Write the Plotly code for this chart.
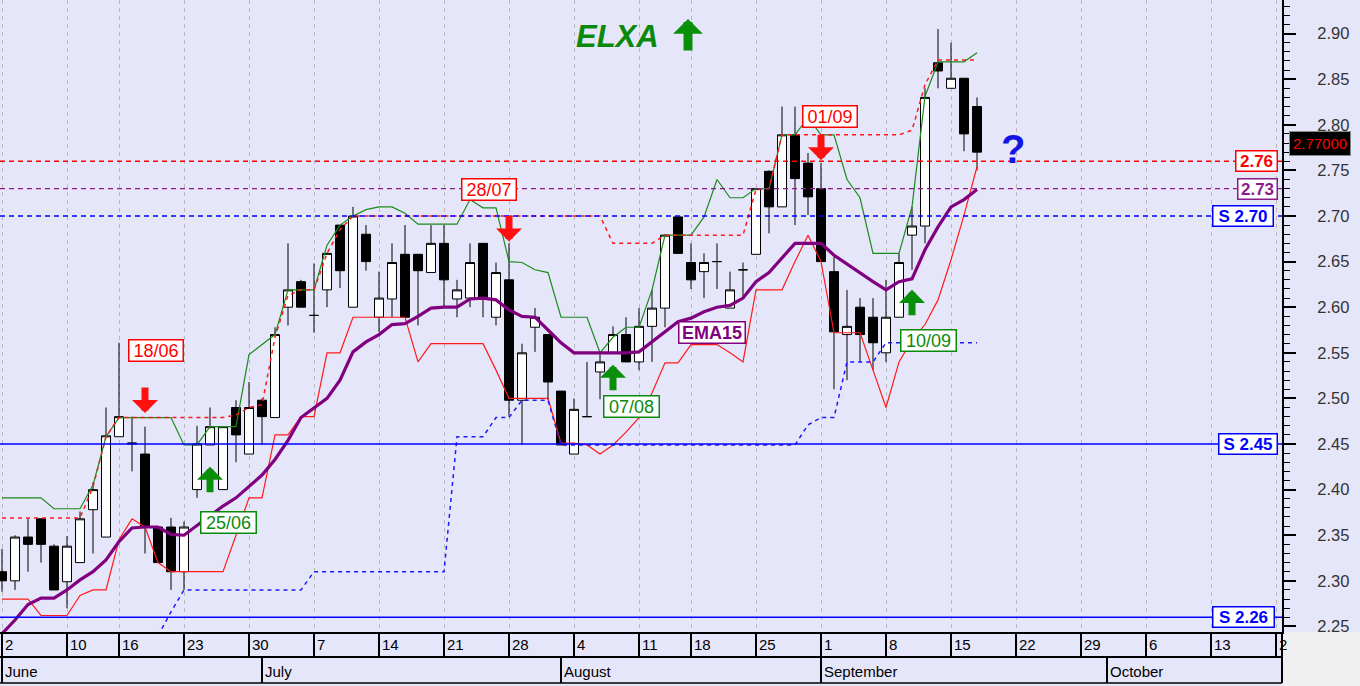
import plotly.graph_objects as go

# ---------------- data (trading-day index 0 = Mon 2 June 2014) ----------------
opens = [2.310, 2.300, 2.348, 2.368, 2.338, 2.299, 2.320, 2.378, 2.348, 2.458,
         2.450, 2.439, 2.359, 2.359, 2.310, 2.400, 2.449, 2.400, 2.490, 2.439,
         2.498, 2.479, 2.600, 2.628, 2.591, 2.619, 2.690, 2.600, 2.680, 2.589,
         2.609, 2.658, 2.658, 2.638, 2.670, 2.609, 2.610, 2.670, 2.589, 2.630,
         2.498, 2.578, 2.570, 2.508, 2.439, 2.480, 2.529, 2.550, 2.570, 2.540,
         2.579, 2.599, 2.699, 2.649, 2.639, 2.650, 2.599, 2.641, 2.658, 2.749,
         2.710, 2.789, 2.758, 2.730, 2.639, 2.570, 2.600, 2.589, 2.550, 2.589,
         2.679, 2.689, 2.868, 2.840, 2.851, 2.820]
highs = [2.335, 2.350, 2.368, 2.368, 2.340, 2.349, 2.376, 2.408, 2.490, 2.561,
         2.480, 2.469, 2.360, 2.369, 2.365, 2.470, 2.490, 2.469, 2.498, 2.518,
         2.500, 2.578, 2.670, 2.630, 2.648, 2.660, 2.690, 2.710, 2.690, 2.639,
         2.670, 2.690, 2.658, 2.690, 2.690, 2.630, 2.670, 2.670, 2.649, 2.670,
         2.560, 2.599, 2.570, 2.508, 2.500, 2.540, 2.550, 2.579, 2.589, 2.599,
         2.619, 2.680, 2.700, 2.670, 2.659, 2.670, 2.639, 2.649, 2.730, 2.750,
         2.820, 2.820, 2.769, 2.758, 2.655, 2.619, 2.610, 2.610, 2.630, 2.659,
         2.710, 2.840, 2.905, 2.890, 2.851, 2.830]
lows = [2.288, 2.290, 2.310, 2.320, 2.290, 2.270, 2.320, 2.330, 2.348, 2.458,
        2.420, 2.330, 2.320, 2.290, 2.290, 2.391, 2.449, 2.400, 2.430, 2.439,
        2.449, 2.479, 2.580, 2.600, 2.572, 2.600, 2.621, 2.600, 2.640, 2.573,
        2.589, 2.589, 2.580, 2.638, 2.600, 2.589, 2.600, 2.589, 2.580, 2.480,
        2.449, 2.551, 2.498, 2.449, 2.439, 2.480, 2.499, 2.550, 2.540, 2.531,
        2.540, 2.578, 2.659, 2.620, 2.610, 2.620, 2.599, 2.610, 2.658, 2.681,
        2.710, 2.690, 2.701, 2.650, 2.510, 2.520, 2.540, 2.531, 2.540, 2.589,
        2.641, 2.670, 2.840, 2.840, 2.771, 2.750]
closes = [2.300, 2.348, 2.340, 2.340, 2.290, 2.338, 2.368, 2.400, 2.459, 2.480,
          2.451, 2.360, 2.320, 2.310, 2.359, 2.450, 2.469, 2.469, 2.460, 2.490,
          2.480, 2.570, 2.619, 2.600, 2.591, 2.659, 2.640, 2.700, 2.650, 2.610,
          2.649, 2.589, 2.640, 2.670, 2.630, 2.619, 2.649, 2.610, 2.638, 2.498,
          2.550, 2.589, 2.518, 2.449, 2.488, 2.480, 2.540, 2.570, 2.540, 2.579,
          2.599, 2.679, 2.659, 2.630, 2.649, 2.650, 2.619, 2.641, 2.730, 2.710,
          2.789, 2.741, 2.721, 2.650, 2.573, 2.579, 2.570, 2.561, 2.589, 2.649,
          2.689, 2.830, 2.859, 2.851, 2.790, 2.770]

ema15 = [2.242, 2.257, 2.274, 2.281, 2.281, 2.290, 2.301, 2.310, 2.323, 2.343,
         2.358, 2.359, 2.359, 2.351, 2.350, 2.361, 2.372, 2.382, 2.391, 2.403,
         2.416, 2.433, 2.454, 2.479, 2.490, 2.500, 2.520, 2.551, 2.562, 2.570,
         2.581, 2.582, 2.590, 2.599, 2.600, 2.600, 2.609, 2.610, 2.608, 2.597,
         2.590, 2.589, 2.575, 2.561, 2.550, 2.550, 2.550, 2.550, 2.550, 2.551,
         2.562, 2.572, 2.584, 2.588, 2.595, 2.600, 2.602, 2.610, 2.628, 2.638,
         2.654, 2.670, 2.670, 2.670, 2.657, 2.647, 2.638, 2.628, 2.619, 2.628,
         2.631, 2.663, 2.688, 2.710, 2.718, 2.729]

upper_green = [2.391, 2.391, 2.391, 2.391, 2.379, 2.379, 2.379, 2.405, 2.458, 2.479,
               2.479, 2.479, 2.479, 2.479, 2.449, 2.449, 2.469, 2.469, 2.469, 2.548,
               2.559, 2.570, 2.619, 2.619, 2.619, 2.668, 2.690, 2.700, 2.707, 2.710,
               2.710, 2.703, 2.691, 2.691, 2.691, 2.691, 2.718, 2.709, 2.709, 2.650,
               2.649, 2.641, 2.638, 2.589, 2.589, 2.589, 2.550, 2.567, 2.578, 2.578,
               2.619, 2.679, 2.679, 2.679, 2.699, 2.740, 2.720, 2.720, 2.730, 2.730,
               2.789, 2.789, 2.808, 2.789, 2.789, 2.740, 2.720, 2.659, 2.659, 2.659,
               2.710, 2.831, 2.869, 2.869, 2.869, 2.879]

lower_red = [2.280, 2.280, 2.280, 2.262, 2.262, 2.262, 2.284, 2.290, 2.290, 2.345,
             2.368, 2.359, 2.320, 2.310, 2.310, 2.310, 2.310, 2.310, 2.350, 2.391,
             2.391, 2.460, 2.460, 2.480, 2.480, 2.550, 2.550, 2.589, 2.589, 2.589,
             2.589, 2.589, 2.540, 2.560, 2.560, 2.560, 2.560, 2.560, 2.531, 2.500,
             2.500, 2.500, 2.500, 2.451, 2.451, 2.449, 2.439, 2.449, 2.463, 2.479,
             2.506, 2.539, 2.539, 2.559, 2.559, 2.559, 2.550, 2.540, 2.619, 2.619,
             2.619, 2.650, 2.679, 2.650, 2.572, 2.572, 2.572, 2.531, 2.490, 2.540,
             2.564, 2.581, 2.608, 2.652, 2.701, 2.754]

resist_red = [2.369, 2.369, 2.369, 2.369, 2.369, 2.369, 2.369, 2.403, 2.458, 2.479,
              2.479, 2.479, 2.479, 2.479, 2.479, 2.479, 2.479, 2.479, 2.482, 2.490,
              2.493, 2.567, 2.613, 2.619, 2.619, 2.659, 2.685, 2.700, 2.700, 2.700,
              2.700, 2.700, 2.700, 2.700, 2.700, 2.700, 2.700, 2.700, 2.700, 2.700,
              2.700, 2.700, 2.700, 2.700, 2.700, 2.700, 2.700, 2.670, 2.670, 2.670,
              2.670, 2.679, 2.679, 2.679, 2.679, 2.679, 2.679, 2.679, 2.729, 2.730,
              2.789, 2.789, 2.789, 2.789, 2.789, 2.789, 2.789, 2.789, 2.789, 2.789,
              2.794, 2.844, 2.871, 2.871, 2.871, 2.871]

support_blue = [None] * 12 + [
    2.240, 2.266, 2.290, 2.290, 2.290, 2.290, 2.290, 2.290, 2.290, 2.290,
    2.290, 2.290, 2.310, 2.310, 2.310, 2.310, 2.310, 2.310, 2.310, 2.310,
    2.310, 2.310, 2.310, 2.458, 2.458, 2.458, 2.479, 2.479, 2.498, 2.498,
    2.498, 2.449, 2.449, 2.449, 2.449, 2.449, 2.449, 2.449, 2.449, 2.449,
    2.449, 2.449, 2.449, 2.449, 2.449, 2.449, 2.449, 2.449, 2.449, 2.449,
    2.471, 2.479, 2.479, 2.540, 2.540, 2.540, 2.561, 2.561, 2.561, 2.561,
    2.561, 2.561, 2.561, 2.561]

week_idx = [0, 5, 9, 14, 19, 24, 29, 34, 39, 44, 49, 53, 58, 63, 68, 73, 78, 83, 88, 93, 98]
week_lbl = ['2', '10', '16', '23', '30', '7', '14', '21', '28', '4', '11', '18', '25',
            '1', '8', '15', '22', '29', '6', '13', '2']
month_idx = [0, 20, 43, 63, 85]
month_lbl = ['June', 'July', 'August', 'September', 'October']

level_values = [2.76, 2.73, 2.70, 2.45, 2.26]
level_labels = ['2.76', '2.73', 'S 2.70', 'S 2.45', 'S 2.26']

sell_idx = [11, 39, 63]
sell_lbl = ['18/06', '28/07', '01/09']
sell_arrow_price = [2.484, 2.672, 2.761]
buy_idx = [16, 47, 70]
buy_lbl = ['25/06', '07/08', '10/09']
buy_arrow_price = [2.425, 2.537, 2.619]

ticker = 'ELXA'
last_close = closes[-1]

# ---------------- styling ----------------
BG = '#e6e6fa'
FONT = 'Liberation Sans, Arial, sans-serif'
NARROW = 'Liberation Sans Narrow, Arial Narrow, Liberation Sans, Arial, sans-serif'
PLOT_H = 632.0
PLOT_W = 1282.0
x_idx = list(range(len(closes)))

fig = go.Figure()
fig.add_trace(go.Candlestick(
    x=x_idx, open=opens, high=highs, low=lows, close=closes,
    increasing=dict(line=dict(color='black', width=1), fillcolor='white'),
    decreasing=dict(line=dict(color='black', width=1), fillcolor='black'),
    whiskerwidth=0, showlegend=False, hoverinfo='skip'))

fig.add_trace(go.Scatter(x=x_idx, y=upper_green, mode='lines',
                         line=dict(color='#1a8a1a', width=1.2), showlegend=False))
fig.add_trace(go.Scatter(x=x_idx, y=lower_red, mode='lines',
                         line=dict(color='#ff1a1a', width=1.2), showlegend=False))
fig.add_trace(go.Scatter(x=x_idx, y=resist_red, mode='lines',
                         line=dict(color='#ff1a1a', width=1.5, dash='4px,4px'), showlegend=False))
fig.add_trace(go.Scatter(x=x_idx, y=support_blue, mode='lines',
                         line=dict(color='#1a1aff', width=1.5, dash='4px,4px'), showlegend=False))
fig.add_trace(go.Scatter(x=x_idx, y=ema15, mode='lines',
                         line=dict(color='#800080', width=3.2), showlegend=False))

shapes = []
level_styles = [('#ff0000', '5px,4px', 1.3), ('#8b1a8b', '5px,4px', 1.3), ('#0000ff', '5px,4px', 1.3),
                ('#0000ff', 'solid', 1.6), ('#0000ff', 'solid', 1.6)]
for v, (c, d, w) in zip(level_values, level_styles):
    shapes.append(dict(type='line', xref='paper', yref='y', x0=0, x1=1, y0=v, y1=v,
                       line=dict(color=c, width=w, dash=d), layer='above'))

# bottom date table
row1 = -25 / PLOT_H
row2 = -51 / PLOT_H
shapes.append(dict(type='rect', xref='paper', yref='paper', x0=1.0, x1=1.07, y0=-0.1, y1=0,
                   fillcolor='#f0f0f0', line=dict(width=0), layer='below'))
shapes.append(dict(type='line', xref='paper', yref='paper', x0=0, x1=1, y0=row1, y1=row1,
                   line=dict(color='black', width=2)))
shapes.append(dict(type='line', xref='paper', yref='paper', x0=0, x1=1, y0=row2, y1=row2,
                   line=dict(color='black', width=1.5)))
shapes.append(dict(type='line', xref='paper', yref='paper', x0=1, x1=1, y0=0, y1=row2,
                   line=dict(color='black', width=2)))
for i in week_idx:
    shapes.append(dict(type='line', xref='x', yref='paper', x0=i, x1=i, y0=0, y1=row1,
                       line=dict(color='black', width=2)))
for i in month_idx:
    shapes.append(dict(type='line', xref='x', yref='paper', x0=i, x1=i, y0=row1, y1=row2,
                       line=dict(color='black', width=2)))

ann = []
for i, t in zip(week_idx, week_lbl):
    ann.append(dict(x=i, y=-13 / PLOT_H, xref='x', yref='paper', text=t, showarrow=False,
                    xanchor='left', yanchor='middle', xshift=1,
                    font=dict(family=NARROW, size=15, color='black')))
for i, t in zip(month_idx, month_lbl):
    ann.append(dict(x=i, y=-39 / PLOT_H, xref='x', yref='paper', text=t, showarrow=False,
                    xanchor='left', yanchor='middle', xshift=1,
                    font=dict(family=NARROW, size=15, color='black')))

# right-hand level labels
level_label_colors = ['#ff0000', '#8b1a8b', '#0000ff', '#0000ff', '#0000ff']
level_label_right = [1278, 1278, 1274, 1278, 1275]
level_label_w = [40, 38, 59, 57, 60]
for v, t, c, xr, w in zip(level_values, level_labels, level_label_colors, level_label_right, level_label_w):
    ann.append(dict(x=xr / PLOT_W, y=v, xref='paper', yref='y', text='<b>%s</b>' % t,
                    showarrow=False, xanchor='right', yanchor='middle',
                    font=dict(family=FONT, size=17, color=c), bgcolor='white',
                    bordercolor=c, borderwidth=1.5, borderpad=0, width=w, height=19))

# last price tag
ann.append(dict(x=1289 / PLOT_W, y=last_close, xref='paper', yref='y', text='%.5f' % last_close,
                showarrow=False, xanchor='left', yanchor='bottom', yshift=-4,
                font=dict(family=FONT, size=15, color='#ff0000'), bgcolor='black',
                bordercolor='#888888', borderwidth=1, borderpad=1, width=58, height=21))

# signals: arrows + date boxes
sell_label_pos = [(11.85, 2.552), (37.46, 2.7285), (63.7, 2.8086)]
buy_label_pos = [(17.4, 2.3645), (48.4, 2.4906), (71.3, 2.564)]
for i, p, t, (lx, ly) in zip(sell_idx, sell_arrow_price, sell_lbl, sell_label_pos):
    ann.append(dict(x=i, y=p, xref='x', yref='y', text='', showarrow=True, ax=0, ay=-27,
                    arrowhead=1, arrowsize=0.62, arrowwidth=7, arrowcolor='#ff1010', standoff=0))
    ann.append(dict(x=lx, y=ly, xref='x', yref='y', text=t, showarrow=False,
                    xanchor='center', yanchor='middle',
                    font=dict(family=FONT, size=18, color='#ff0000'), bgcolor='white',
                    bordercolor='#ff0000', borderwidth=1.5, borderpad=0, width=53, height=20))
for i, p, t, (lx, ly) in zip(buy_idx, buy_arrow_price, buy_lbl, buy_label_pos):
    ann.append(dict(x=i, y=p, xref='x', yref='y', text='', showarrow=True, ax=0, ay=27,
                    arrowhead=1, arrowsize=0.62, arrowwidth=7, arrowcolor='#0a8f0a', standoff=0))
    ann.append(dict(x=lx, y=ly, xref='x', yref='y', text=t, showarrow=False,
                    xanchor='center', yanchor='middle',
                    font=dict(family=FONT, size=18, color='#0a8a0a'), bgcolor='white',
                    bordercolor='#0a8a0a', borderwidth=1.5, borderpad=0, width=54, height=20))

# EMA label
ann.append(dict(x=54.6, y=2.5728, xref='x', yref='y', text='<b>EMA15</b>', showarrow=False,
                xanchor='center', yanchor='middle',
                font=dict(family=FONT, size=18, color='#800080'), bgcolor='white',
                bordercolor='#800080', borderwidth=1.5, borderpad=0, width=65, height=20))

# title + arrow, question mark
ann.append(dict(x=617 / PLOT_W, y=(PLOT_H - 37) / PLOT_H, xref='paper', yref='paper',
                text='<b><i>%s</i></b>' % ticker, showarrow=False,
                xanchor='center', yanchor='middle',
                font=dict(family=FONT, size=31, color='#0a8a0a')))
ann.append(dict(x=688 / PLOT_W, y=(PLOT_H - 19) / PLOT_H, xref='paper', yref='paper', text='',
                showarrow=True, ax=0, ay=33, arrowhead=1, arrowsize=0.55, arrowwidth=9,
                arrowcolor='#0a8f0a', standoff=0))
ann.append(dict(x=1013 / PLOT_W, y=(PLOT_H - 149) / PLOT_H, xref='paper', yref='paper',
                text='<b>?</b>', showarrow=False, xanchor='center', yanchor='middle',
                font=dict(family=FONT, size=40, color='#1414e6')))

fig.update_layout(
    width=1360, height=686,
    margin=dict(l=0, r=78, t=0, b=54, pad=0, autoexpand=False),
    paper_bgcolor=BG, plot_bgcolor=BG,
    boxgap=0.31, boxgroupgap=0,
    showlegend=False,
    shapes=shapes, annotations=ann,
    xaxis=dict(range=[-0.154, 98.46], tickmode='array', tickvals=week_idx, showticklabels=False,
               ticks='', showgrid=True, gridcolor='#b8b8b8', griddash='4px,4px', gridwidth=1,
               zeroline=False, showline=True, linecolor='black', linewidth=2,
               rangeslider=dict(visible=False), fixedrange=True, automargin=False),
    yaxis=dict(range=[2.2439, 2.9368], side='right', tick0=2.30, dtick=0.05, tickformat='.2f',
               ticks='outside', ticklen=12, tickwidth=1.5, tickcolor='black',
               ticklabelstandoff=18,
               showline=True, linecolor='black', linewidth=2, showgrid=False, zeroline=False,
               tickfont=dict(family=FONT, size=16.5, color='#333333'),
               minor=dict(dtick=0.01, tick0=2.30, ticks='outside', ticklen=6, tickwidth=1,
                          tickcolor='black', showgrid=False),
               fixedrange=True, automargin=False),
)

fig.write_html('out.html', config={'displayModeBar': False},
               post_script="document.body.style.margin='0px';document.body.style.padding='0px';"
                           "document.body.style.background='%s';" % BG)
